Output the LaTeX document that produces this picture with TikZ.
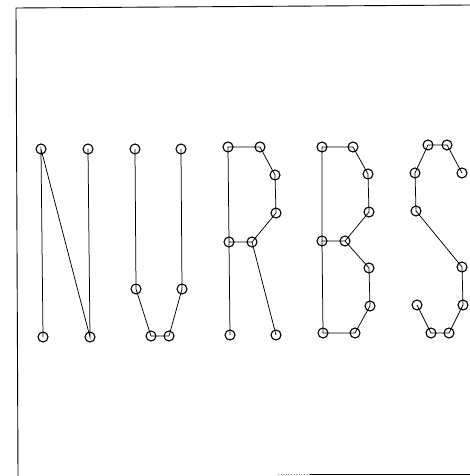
\documentclass[tikz,border=0pt]{standalone}
\begin{document}
\begin{tikzpicture}[x=1pt,y=-1pt,
  cp/.style={circle,draw,line width=1.1pt,minimum size=10pt,inner sep=0pt},
  poly/.style={line width=0.75pt},
  frame/.style={line width=0.9pt}]
\useasboundingbox (0,0) rectangle (470,476);
% frame
\coordinate (f1) at (18,476);
\coordinate (f2) at (16,8);
\coordinate (f3) at (470,5);
\coordinate (f4) at (310,474);
\coordinate (f5) at (470,474);
\coordinate (f6) at (278,474);
\draw[frame] (f1) -- (f2) -- (f3);
\draw[frame] (f4) -- (f5);
\draw[gray,dotted,line width=0.6pt] (f6) -- (f4);
% N
\node[cp] (n1) at (43,337) {};
\node[cp] (n2) at (41,149) {};
\node[cp] (n3) at (90,337) {};
\node[cp] (n4) at (88,149) {};
\draw[poly] (n1.center) -- (n2.center) -- (n3.center) -- (n4.center);
% U
\node[cp] (u1) at (135,149) {};
\node[cp] (u2) at (136,289) {};
\node[cp] (u3) at (151,336) {};
\node[cp] (u4) at (169,336) {};
\node[cp] (u5) at (182,289) {};
\node[cp] (u6) at (181,149) {};
\draw[poly] (u1.center) -- (u2.center) -- (u3.center) -- (u4.center) -- (u5.center) -- (u6.center);
% R
\node[cp] (r1) at (230,335) {};
\node[cp] (r2) at (229,242) {};
\node[cp] (r3) at (228,147) {};
\node[cp] (r4) at (260,147) {};
\node[cp] (r5) at (275,175) {};
\node[cp] (r6) at (276,213) {};
\node[cp] (r7) at (252,242) {};
\node[cp] (r8) at (276,335) {};
\draw[poly] (r1.center) -- (r2.center) -- (r3.center) -- (r4.center) -- (r5.center) -- (r6.center) -- (r7.center) -- (r2.center);
\draw[poly] (r7.center) -- (r8.center);
% B
\node[cp] (b1) at (323,333) {};
\node[cp] (b2) at (322,241) {};
\node[cp] (b3) at (322,147) {};
\node[cp] (b4) at (353,147) {};
\node[cp] (b5) at (368,174) {};
\node[cp] (b6) at (369,212) {};
\node[cp] (b7) at (345,241) {};
\node[cp] (b8) at (369,268) {};
\node[cp] (b9) at (370,306) {};
\node[cp] (b10) at (355,333) {};
\draw[poly] (b1.center) -- (b2.center) -- (b3.center) -- (b4.center) -- (b5.center) -- (b6.center) -- (b7.center) -- (b2.center);
\draw[poly] (b7.center) -- (b8.center) -- (b9.center) -- (b10.center) -- (b1.center);
% S
\node[cp] (s1) at (462,173) {};
\node[cp] (s2) at (447,145) {};
\node[cp] (s3) at (428,145) {};
\node[cp] (s4) at (415,173) {};
\node[cp] (s5) at (416,211) {};
\node[cp] (s6) at (462,267) {};
\node[cp] (s7) at (463,305) {};
\node[cp] (s8) at (449,333) {};
\node[cp] (s9) at (431,333) {};
\node[cp] (s10) at (417,305) {};
\draw[poly] (s1.center) -- (s2.center) -- (s3.center) -- (s4.center) -- (s5.center) -- (s6.center) -- (s7.center) -- (s8.center) -- (s9.center) -- (s10.center);
\end{tikzpicture}
\end{document}
